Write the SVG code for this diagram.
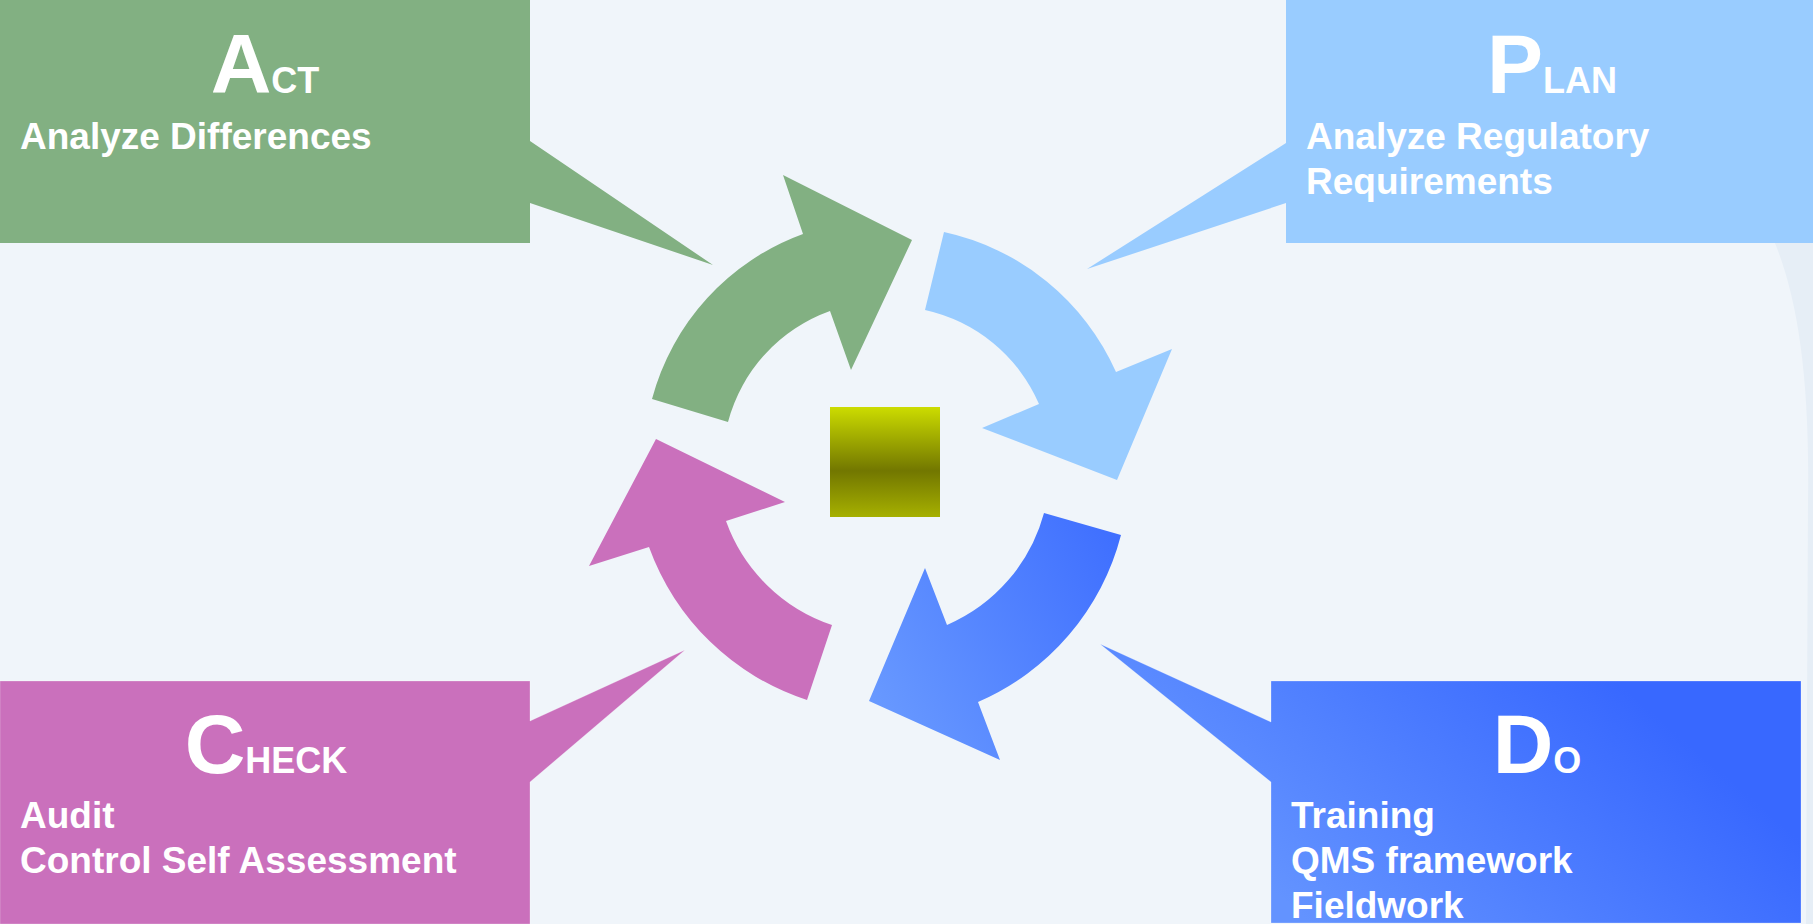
<svg xmlns="http://www.w3.org/2000/svg" width="1813" height="924" viewBox="0 0 1813 924">
  <defs>
    <linearGradient id="doFill" gradientUnits="userSpaceOnUse" x1="1330" y1="940" x2="1580" y2="650">
      <stop offset="0" stop-color="#6393FF"/>
      <stop offset="1" stop-color="#3868FF"/>
    </linearGradient>
    <linearGradient id="doArrowFill" gradientUnits="userSpaceOnUse" x1="860" y1="710" x2="1130" y2="560">
      <stop offset="0" stop-color="#6A9BFF"/>
      <stop offset="1" stop-color="#3F6FFF"/>
    </linearGradient>
    <linearGradient id="hubFill" x1="0" y1="0" x2="0" y2="1">
      <stop offset="0" stop-color="#CCDC00"/>
      <stop offset="0.58" stop-color="#727700"/>
      <stop offset="1" stop-color="#A6B000"/>
    </linearGradient>
  </defs>
  <style>
    .title { font-family: "Liberation Sans", Arial, sans-serif; font-weight: bold; font-size: 84px; fill: #FFFFFF; text-anchor: middle; }
    .caps { font-size: 36px; }
    .body { font-family: "Liberation Sans", Arial, sans-serif; font-weight: bold; font-size: 37px; fill: #FFFFFF; }
    .edge { stroke: #FFFFFF; stroke-opacity: 0.25; stroke-width: 1; }
  </style>

  <!-- page background -->
  <rect x="0" y="0" width="1813" height="924" fill="#F0F5FA"/>
  <path d="M1775,243 C1798,300 1810,380 1808,500 L1806,924 L1813,924 L1813,243 Z" fill="#E6EEF6"/>

  <!-- cycle arrows -->
  <g id="connectors">
    <path id="arrow-act" d="M652,399 A242,242 0 0 1 803,234 L783,175 L912,240 L851,370 L830,311 A162,162 0 0 0 728,422 Z" fill="#82B082"/>
    <path id="arrow-plan" d="M944,232 A245,245 0 0 1 1116,372 L1172,349 L1117,480 L982,428 L1039,404 A162,162 0 0 0 925,310 Z" fill="#99CCFF"/>
    <path id="arrow-do" d="M1121,535 A250,250 0 0 1 978,702 L1000,760 L869,701 L925,568 L947,625 A170,170 0 0 0 1044,513 Z" fill="url(#doArrowFill)"/>
    <path id="arrow-check" d="M807,700 A250,250 0 0 1 649,547 L589,566 L656,439 L785,502 L726,521 A170,170 0 0 0 832,625 Z" fill="#CA70BC"/>
  </g>

  <!-- hub -->
  <g id="hub">
    <rect x="830" y="407" width="110" height="110" fill="url(#hubFill)"/>
  </g>

  <!-- Act -->
  <g id="act">
    <path d="M0,0 H530 V141 L713,265 L530,203 V243 H0 Z" fill="#82B082"/>
    <text class="title" x="265" y="93">A<tspan class="caps">CT</tspan></text>
    <text class="body" x="20" y="149">Analyze Differences</text>
  </g>

  <!-- Plan -->
  <g id="plan">
    <path d="M1813,0 H1286 V143 L1087,269 L1286,203 V243 H1813 Z" fill="#99CCFF"/>
    <text class="title" x="1552" y="93">P<tspan class="caps">LAN</tspan></text>
    <text class="body" x="1306" y="149">Analyze Regulatory</text>
    <text class="body" x="1306" y="194">Requirements</text>
  </g>

  <!-- Check -->
  <g id="check">
    <path class="edge" d="M0,681 H530 V721 L685,650 L530,782 V924 H0 Z" fill="#CA70BC"/>
    <text class="title" x="266" y="773">C<tspan class="caps">HECK</tspan></text>
    <text class="body" x="20" y="828">Audit</text>
    <text class="body" x="20" y="873">Control Self Assessment</text>
  </g>

  <!-- Do -->
  <g id="do">
    <path class="edge" d="M1801,681 H1271 V722 L1100,644 L1271,782 V923 H1801 Z" fill="url(#doFill)"/>
    <text class="title" x="1537" y="773">D<tspan class="caps">O</tspan></text>
    <text class="body" x="1291" y="828">Training</text>
    <text class="body" x="1291" y="873">QMS framework</text>
    <text class="body" x="1291" y="918">Fieldwork</text>
  </g>
</svg>
